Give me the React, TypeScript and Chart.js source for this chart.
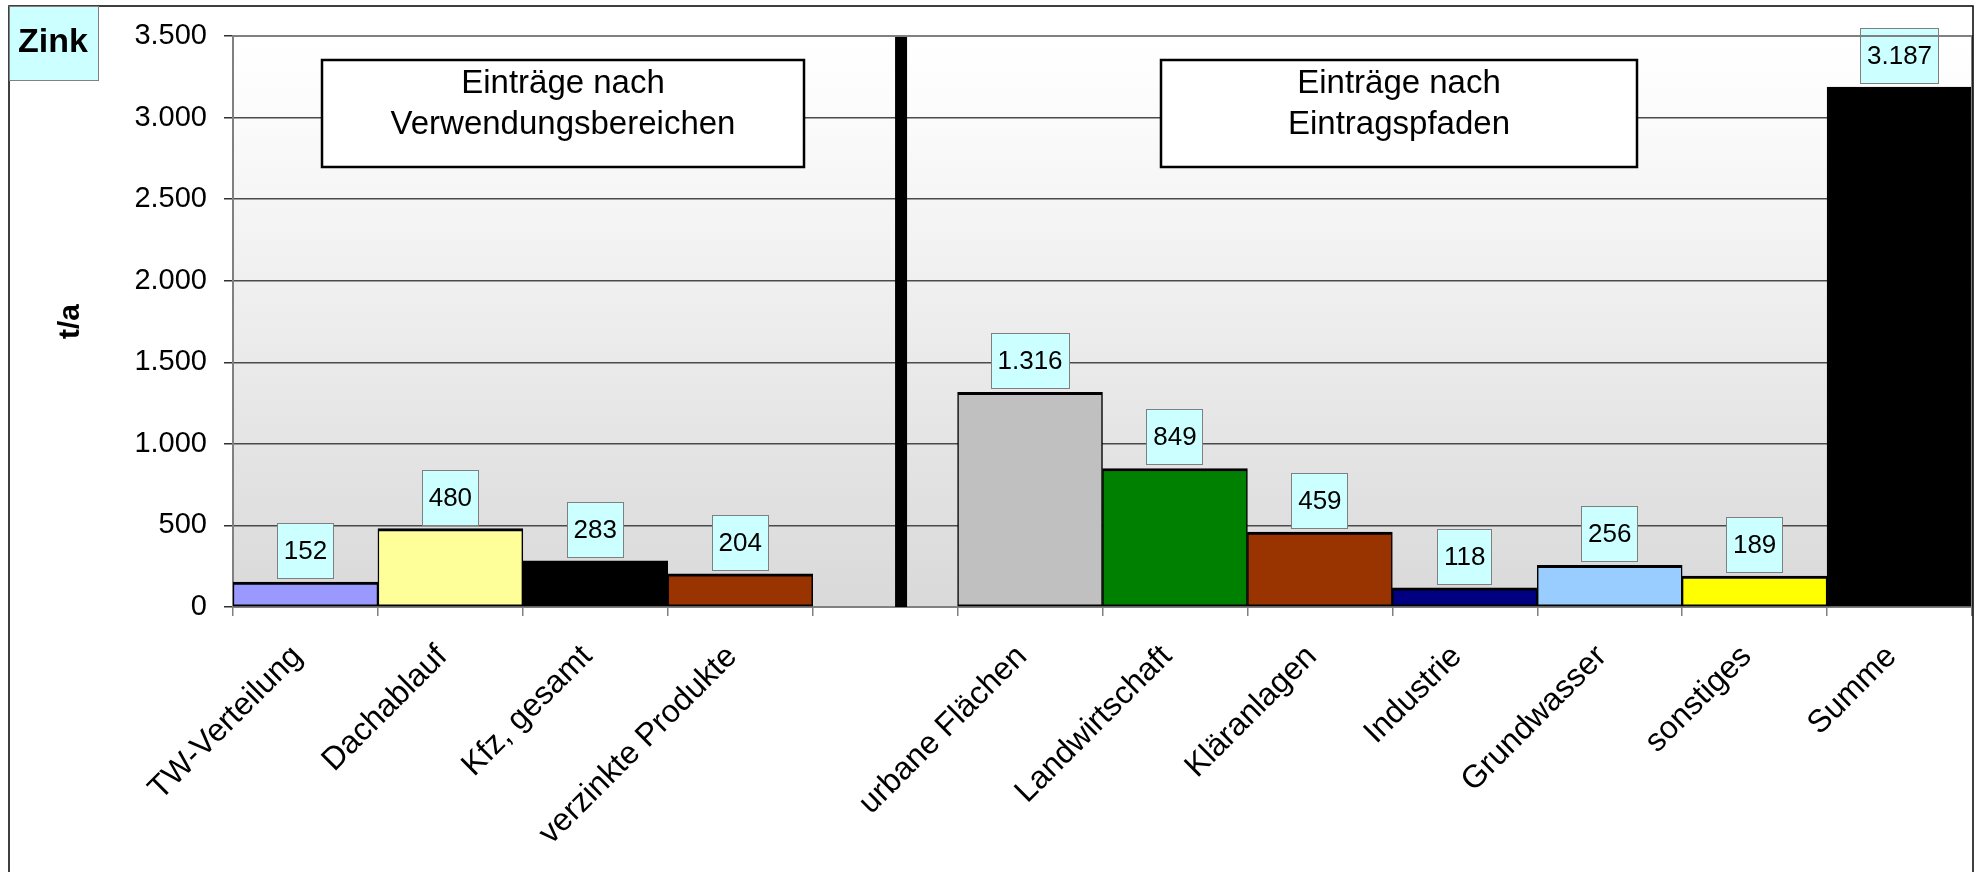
import React, { useEffect, useRef } from "react";
import { Chart, registerables } from "chart.js";

Chart.register(...registerables);

const categories = [
  "TW-Verteilung",
  "Dachablauf",
  "Kfz, gesamt",
  "verzinkte Produkte",
  "",
  "urbane Flächen",
  "Landwirtschaft",
  "Kläranlagen",
  "Industrie",
  "Grundwasser",
  "sonstiges",
  "Summe",
];
const values: (number | null)[] = [152, 480, 283, 204, null, 1316, 849, 459, 118, 256, 189, 3187];
const barColors = [
  "#9999FF",
  "#FFFF99",
  "#000000",
  "#993300",
  "rgba(0,0,0,0)",
  "#C0C0C0",
  "#008000",
  "#993300",
  "#000080",
  "#99CCFF",
  "#FFFF00",
  "#000000",
];
const groupTitleLeft = ["Einträge nach", "Verwendungsbereichen"];
const groupTitleRight = ["Einträge nach", "Eintragspfaden"];
const chartLabel = "Zink";
const yAxisTitle = "t/a";
const yMin = 0;
const yMax = 3500;
const yStep = 500;
const separatorAt = 4.11; // position on the category axis

const FONT = "'Liberation Sans', Arial, Helvetica, sans-serif";

const fmt = (v: number) => String(Math.round(v)).replace(/\B(?=(\d{3})+(?!\d))/g, ".");

const decorPlugin = {
  id: "decor",
  beforeDraw(chart: any) {
    const { ctx, chartArea: a } = chart;
    ctx.save();
    ctx.fillStyle = "#FFFFFF";
    ctx.fillRect(0, 0, chart.width, chart.height);
    const g = ctx.createLinearGradient(0, a.top, 0, a.bottom);
    g.addColorStop(0, "#FFFFFF");
    g.addColorStop(0.12, "#FCFCFC");
    g.addColorStop(1, "#D9D9D9");
    ctx.fillStyle = g;
    ctx.fillRect(a.left, a.top, a.right - a.left, a.bottom - a.top);
    ctx.restore();
  },
  afterDatasetsDraw(chart: any) {
    const { ctx, chartArea: a } = chart;
    const xs = chart.scales.x;
    ctx.save();

    // separator line between the two groups
    const sx = xs.getPixelForValue(separatorAt);
    ctx.fillStyle = "#000000";
    ctx.fillRect(sx - 6, a.top, 12, a.bottom - a.top);

    // group title boxes
    const drawBox = (x0: number, x1: number, lines: string[]) => {
      const y0 = 60;
      const y1 = 167;
      ctx.fillStyle = "#FFFFFF";
      ctx.fillRect(x0, y0, x1 - x0, y1 - y0);
      ctx.strokeStyle = "#000000";
      ctx.lineWidth = 2.5;
      ctx.strokeRect(x0, y0, x1 - x0, y1 - y0);
      ctx.fillStyle = "#000000";
      ctx.font = `33px ${FONT}`;
      ctx.textAlign = "center";
      ctx.textBaseline = "alphabetic";
      const cx = (x0 + x1) / 2;
      lines.forEach((l, i) => ctx.fillText(l, cx, 93 + i * 41));
    };
    drawBox(322, 804, groupTitleLeft);
    drawBox(1161, 1637, groupTitleRight);

    // value labels
    const meta = chart.getDatasetMeta(0);
    ctx.font = `26px ${FONT}`;
    meta.data.forEach((el: any, i: number) => {
      const v = values[i];
      if (v == null) return;
      const txt = fmt(v);
      const w = Math.round(ctx.measureText(txt).width + 14);
      const h = 56;
      const x = Math.round(el.x - w / 2);
      const y = Math.round(el.y - 3 - h);
      ctx.fillStyle = "#CCFFFF";
      ctx.fillRect(x, y, w, h);
      ctx.strokeStyle = "#7F7F7F";
      ctx.lineWidth = 1;
      ctx.strokeRect(x + 0.5, y + 0.5, w - 1, h - 1);
      ctx.fillStyle = "#000000";
      ctx.textAlign = "center";
      ctx.textBaseline = "middle";
      ctx.fillText(txt, el.x, y + h / 2 + 1);
    });
    ctx.restore();
  },
  afterDraw(chart: any) {
    const { ctx, chartArea: a } = chart;
    ctx.save();
    // plot area top and right border
    ctx.strokeStyle = "#808080";
    ctx.lineWidth = 2;
    ctx.beginPath();
    ctx.moveTo(a.left, a.top);
    ctx.lineTo(a.right, a.top);
    ctx.lineTo(a.right, a.bottom);
    ctx.stroke();

    // outer chart border
    ctx.strokeStyle = "#000000";
    ctx.lineWidth = 1.5;
    ctx.strokeRect(9, 6, 1964, 900);

    // "Zink" label box
    ctx.fillStyle = "#CCFFFF";
    ctx.fillRect(9, 6, 90, 75);
    ctx.strokeStyle = "#808080";
    ctx.lineWidth = 1;
    ctx.strokeRect(9.5, 6.5, 89, 74);
    ctx.fillStyle = "#000000";
    ctx.font = `bold 34px ${FONT}`;
    ctx.textAlign = "left";
    ctx.textBaseline = "alphabetic";
    ctx.fillText(chartLabel, 18, 52);
    ctx.restore();
  },
};

export default function App() {
  const canvasRef = useRef<HTMLCanvasElement | null>(null);

  useEffect(() => {
    document.body.style.margin = "0";
    const canvas = canvasRef.current;
    if (!canvas) return;
    const chart = new Chart(canvas, {
      type: "bar",
      data: {
        labels: categories,
        datasets: [
          {
            data: values as any,
            backgroundColor: barColors,
            borderColor: "#000000",
            borderWidth: { top: 3, left: 1.5, right: 1.5, bottom: 2 } as any,
            borderSkipped: false,
            barPercentage: 1,
            categoryPercentage: 1,
          },
        ],
      },
      options: {
        responsive: false,
        animation: false,
        devicePixelRatio: 1,
        layout: { padding: { top: 36, right: 3, bottom: 0, left: 0 } },
        plugins: {
          legend: { display: false },
          tooltip: { enabled: false },
          title: { display: false },
        },
        scales: {
          x: {
            type: "category",
            offset: true,
            grid: {
              offset: true,
              drawOnChartArea: false,
              drawTicks: true,
              tickLength: 9,
              color: "#808080",
              lineWidth: 1.5,
            },
            border: { display: true, color: "#808080", width: 2 },
            ticks: {
              autoSkip: false,
              maxRotation: 45,
              minRotation: 45,
              color: "#000000",
              padding: 22,
              labelOffset: -8,
              font: { family: FONT, size: 32 },
            },
            afterFit: (s: any) => {
              s.height = 265;
            },
          },
          y: {
            min: yMin,
            max: yMax,
            grid: {
              color: "#4A4A4A",
              lineWidth: 1.5,
              drawTicks: true,
              tickLength: 9,
              tickColor: "#303030",
            },
            border: { display: true, color: "#808080", width: 2 },
            ticks: {
              stepSize: yStep,
              color: "#000000",
              padding: 17,
              font: { family: FONT, size: 29 },
              callback: (v: any) => fmt(Number(v)),
            },
            title: {
              display: true,
              text: yAxisTitle,
              color: "#000000",
              font: { family: FONT, size: 30, weight: "bold" },
              padding: { top: 53, bottom: 0 },
            },
            afterFit: (s: any) => {
              s.width = 233;
            },
          },
        },
      },
      plugins: [decorPlugin],
    });
    return () => chart.destroy();
  }, []);

  return (
    <div style={{ width: 1975, height: 872, margin: 0, padding: 0 }}>
      <canvas ref={canvasRef} width={1975} height={872} style={{ display: "block" }} />
    </div>
  );
}
